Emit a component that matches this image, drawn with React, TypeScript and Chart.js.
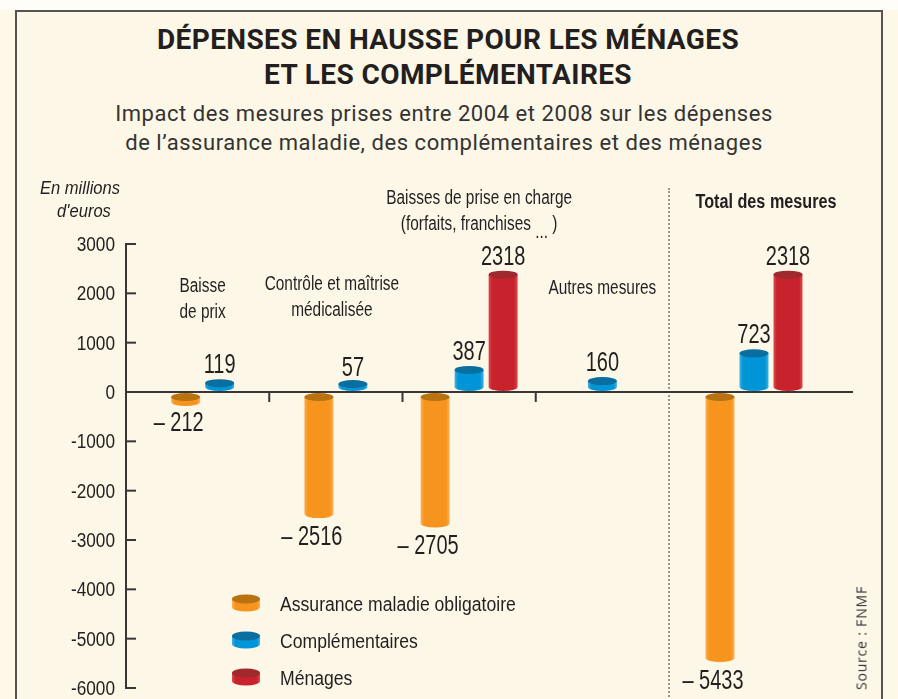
import React, { useEffect, useRef } from "react";
import { Chart, registerables } from "chart.js";

Chart.register(...registerables);

// ---------- data ----------
const groupLabels: string[][] = [
  ["Baisse", "de prix"],
  ["Contrôle et maîtrise", "médicalisée"],
  ["Baisses de prise en charge", "(forfaits, franchises ...)"],
  ["Autres mesures"],
];
const totalLabel: string[] = ["Total des mesures"];
const seriesNames = ["Assurance maladie obligatoire", "Complémentaires", "Ménages"];

const assuranceMaladie: (number | null)[] = [-212, -2516, -2705, null];
const complementaires: (number | null)[] = [119, 57, 387, 160];
const menages: (number | null)[] = [null, null, 2318, null];

const totalAssurance: (number | null)[] = [-5433];
const totalComplementaires: (number | null)[] = [723];
const totalMenages: (number | null)[] = [2318];

const yTicks = [3000, 2000, 1000, 0, -1000, -2000, -3000, -4000, -5000, -6000];
const yMin = -6000;
const yMax = 3000;

// ---------- styles ----------
const COLORS = ["#f7941d", "#0095d6", "#c8232c"];
const TOPS = ["#b8720f", "#0a6ea0", "#a0292d"];
const EDGES = ["#fbb158", "#40b2e6", "#db4a51"];
const INK = "#231f20";
const SANS = "'Liberation Sans', Arial, 'DejaVu Sans', sans-serif";
const H = 699;
const LEFT_W = 669;
const RIGHT_W = 229;
const groupLabelY = [292, 290, 204, 294];
const groupLabelDx = [0, -4, 10, 0];

function txt(
  ctx: CanvasRenderingContext2D,
  s: string,
  x: number,
  y: number,
  font: string,
  sx: number,
  align: CanvasTextAlign = "center",
  baseline: CanvasTextBaseline = "alphabetic"
) {
  ctx.save();
  ctx.font = font;
  ctx.textAlign = align;
  ctx.textBaseline = baseline;
  ctx.fillStyle = INK;
  ctx.translate(x, y);
  ctx.scale(sx, 1);
  ctx.fillText(s, 0, 0);
  ctx.restore();
}

function drawCylinder(ctx: CanvasRenderingContext2D, x: number, w: number, yTop: number, yBot: number, ry: number, idx: number) {
  const rx = w / 2;
  const g = ctx.createLinearGradient(x - rx, 0, x + rx, 0);
  g.addColorStop(0, EDGES[idx]);
  g.addColorStop(0.12, COLORS[idx]);
  g.addColorStop(0.88, COLORS[idx]);
  g.addColorStop(1, EDGES[idx]);
  ctx.beginPath();
  ctx.moveTo(x - rx, yTop);
  ctx.lineTo(x - rx, yBot);
  ctx.ellipse(x, yBot, rx, ry, 0, Math.PI, 0, true);
  ctx.lineTo(x + rx, yTop);
  ctx.closePath();
  ctx.fillStyle = g;
  ctx.fill();
  ctx.beginPath();
  ctx.ellipse(x, yTop, rx, ry, 0, 0, Math.PI * 2);
  ctx.fillStyle = TOPS[idx];
  ctx.fill();
}

function fmt(v: number) {
  return v < 0 ? "\u2013 " + Math.abs(v) : String(v);
}

const cylinderPlugin = {
  id: "cylinders",
  afterDatasetsDraw(chart: any) {
    const ctx: CanvasRenderingContext2D = chart.ctx;
    const ys = chart.scales.y;
    const base = ys.getPixelForValue(0);
    const ry = 4;
    chart.data.datasets.forEach((ds: any, di: number) => {
      const meta = chart.getDatasetMeta(di);
      meta.data.forEach((bar: any, i: number) => {
        const v = ds.data[i];
        if (v == null) return;
        const { x, width } = bar.getProps(["x", "width"], true);
        const vy = ys.getPixelForValue(v);
        let top: number, bot: number;
        if (v >= 0) {
          bot = base - ry - 1;
          top = Math.min(vy - 3, bot - 3);
        } else {
          top = base + ry + 1;
          bot = Math.max(vy - ry + 2, top + 5);
        }
        ctx.save();
        drawCylinder(ctx, x, width, top, bot, ry, di);
        ctx.restore();
        const font = `27px ${SANS}`;
        if (v >= 0) txt(ctx, fmt(v), x, vy - 13, font, 0.74);
        else txt(ctx, fmt(v), x - 7, vy + 29, font, 0.74);
      });
    });
  },
};

function drawGroupLabel(ctx: CanvasRenderingContext2D, line: string, x: number, y: number, font: string, sx: number) {
  const parts = line.split("...");
  if (parts.length === 2) {
    ctx.save();
    ctx.font = font;
    const a = parts[0];
    const dots = "...";
    const b = " " + parts[1];
    const wa = ctx.measureText(a).width * sx;
    const wd = ctx.measureText(dots).width * sx;
    const wb = ctx.measureText(b).width * sx;
    ctx.restore();
    const start = x - (wa + wd + wb) / 2;
    txt(ctx, a, start, y, font, sx, "left");
    txt(ctx, dots, start + wa, y + 8, font, sx, "left");
    txt(ctx, b, start + wa + wd, y, font, sx, "left");
  } else {
    txt(ctx, line, x, y, font, sx);
  }
}

const leftDecor = {
  id: "leftDecor",
  beforeDatasetsDraw(chart: any) {
    const ctx: CanvasRenderingContext2D = chart.ctx;
    const ys = chart.scales.y;
    const xs = chart.scales.x;
    const area = chart.chartArea;
    const axisX = area.left - 10;
    const base = ys.getPixelForValue(0);
    ctx.save();
    ctx.strokeStyle = "#3a3536";
    ctx.lineWidth = 2;
    // y axis
    ctx.beginPath();
    ctx.moveTo(axisX, ys.getPixelForValue(yMax));
    ctx.lineTo(axisX, ys.getPixelForValue(yMin));
    ctx.stroke();
    yTicks.forEach((t) => {
      const py = ys.getPixelForValue(t);
      ctx.beginPath();
      ctx.moveTo(axisX - 1, py);
      ctx.lineTo(axisX + 10, py);
      ctx.stroke();
      txt(ctx, String(t), axisX - 11, py + 7, `20px ${SANS}`, 0.86, "right");
    });
    // zero line
    ctx.beginPath();
    ctx.moveTo(axisX, base);
    ctx.lineTo(chart.width, base);
    ctx.stroke();
    // separators
    for (let i = 0; i < groupLabels.length - 1; i++) {
      const sx = (xs.getPixelForValue(i) + xs.getPixelForValue(i + 1)) / 2;
      ctx.beginPath();
      ctx.moveTo(sx, base);
      ctx.lineTo(sx, base + 10);
      ctx.stroke();
    }
    ctx.restore();
    // y title
    txt(ctx, "En millions", 80, 194, `italic 18px ${SANS}`, 0.92);
    txt(ctx, "d'euros", 84, 217, `italic 18px ${SANS}`, 0.92);
    // group labels
    const gFont = `20px ${SANS}`;
    groupLabels.forEach((lines, i) => {
      const cx = xs.getPixelForValue(i) + groupLabelDx[i];
      lines.forEach((ln, k) => drawGroupLabel(ctx, ln, cx, groupLabelY[i] + k * 26, gFont, 0.77));
    });
    // legend
    const legendY = [603, 640, 677];
    seriesNames.forEach((name, i) => {
      ctx.save();
      drawCylinder(ctx, 246, 28, legendY[i] - 4, legendY[i] + 4, 4.5, i);
      ctx.restore();
      txt(ctx, name, 280, legendY[i] + 8, `20px ${SANS}`, 0.88, "left");
    });
  },
};

const rightDecor = {
  id: "rightDecor",
  beforeDatasetsDraw(chart: any) {
    const ctx: CanvasRenderingContext2D = chart.ctx;
    const ys = chart.scales.y;
    const xs = chart.scales.x;
    const base = ys.getPixelForValue(0);
    ctx.save();
    ctx.strokeStyle = "#3a3536";
    ctx.lineWidth = 2;
    ctx.beginPath();
    ctx.moveTo(0, base);
    ctx.lineTo(chart.chartArea.right + 14, base);
    ctx.stroke();
    ctx.restore();
    totalLabel.forEach((ln, k) =>
      txt(ctx, ln, xs.getPixelForValue(0) + 12, 208 + k * 26, `bold 20px ${SANS}`, 0.81)
    );
  },
};

function makeConfig(labels: string[], data: (number | null)[][], padding: any, plugins: any[]): any {
  return {
    type: "bar",
    data: {
      labels,
      datasets: data.map((d, i) => ({
        label: seriesNames[i],
        data: d,
        backgroundColor: "rgba(0,0,0,0)",
        borderWidth: 0,
      })),
    },
    options: {
      responsive: false,
      maintainAspectRatio: false,
      animation: false,
      layout: { padding },
      datasets: { bar: { barThickness: 34, maxBarThickness: 29, skipNull: true } },
      scales: {
        x: { display: false },
        y: { display: false, min: yMin, max: yMax },
      },
      plugins: { legend: { display: false }, tooltip: { enabled: false } },
    },
    plugins,
  };
}

export default function App() {
  const leftRef = useRef<HTMLCanvasElement>(null);
  const rightRef = useRef<HTMLCanvasElement>(null);
  useEffect(() => {
    const left = new Chart(
      leftRef.current as HTMLCanvasElement,
      makeConfig(
        groupLabels.map((l) => l.join(" ")),
        [assuranceMaladie, complementaires, menages],
        { left: 136, right: 0, top: 244, bottom: 11 },
        [leftDecor, cylinderPlugin]
      )
    );
    const right = new Chart(
      rightRef.current as HTMLCanvasElement,
      makeConfig(
        [totalLabel.join(" ")],
        [totalAssurance, totalComplementaires, totalMenages],
        { left: 0, right: RIGHT_W - 170, top: 244, bottom: 11 },
        [rightDecor, cylinderPlugin]
      )
    );
    return () => {
      left.destroy();
      right.destroy();
    };
  }, []);

  return (
    <div style={{ position: "fixed", left: 0, top: 0, width: 898, height: H, overflow: "hidden", background: "#fdf8e8" }}>
      <div style={{ position: "absolute", left: 0, top: 0, width: 898, height: 10, background: "#fffdf7" }} />
      <div
        style={{
          position: "absolute",
          left: 15,
          top: 10,
          width: 864,
          height: 720,
          border: "2px solid #555252",
          background: "#fdf7e7",
        }}
      />
      <div
        style={{
          position: "absolute",
          left: 16,
          top: 22,
          width: 864,
          textAlign: "center",
          fontFamily: "Roboto, 'DejaVu Sans', sans-serif",
          fontWeight: 700,
          fontSize: 28,
          lineHeight: "35px",
          color: INK,
          letterSpacing: 0.4,
        }}
      >
        DÉPENSES EN HAUSSE POUR LES MÉNAGES
        <br />
        ET LES COMPLÉMENTAIRES
      </div>
      <div
        style={{
          position: "absolute",
          left: 12,
          top: 99,
          width: 864,
          textAlign: "center",
          fontFamily: "Roboto, 'DejaVu Sans', sans-serif",
          fontWeight: 400,
          fontSize: 22,
          lineHeight: "29px",
          color: "#333",
          letterSpacing: 0.55,
        }}
      >
        Impact des mesures prises entre 2004 et 2008 sur les dépenses
        <br />
        de l’assurance maladie, des complémentaires et des ménages
      </div>
      <div
        style={{
          position: "absolute",
          left: 668,
          top: 188,
          height: 520,
          borderLeft: "2px dotted #9a9594",
        }}
      />
      <canvas ref={leftRef} width={LEFT_W} height={H} style={{ position: "absolute", left: 0, top: 0, width: LEFT_W, height: H }} />
      <canvas ref={rightRef} width={RIGHT_W} height={H} style={{ position: "absolute", left: LEFT_W, top: 0, width: RIGHT_W, height: H }} />
      <div
        style={{
          position: "absolute",
          left: 861,
          top: 638,
          transform: "translate(-50%, -50%) rotate(-90deg)",
          whiteSpace: "nowrap",
          fontFamily: "'Open Sans', 'DejaVu Sans', sans-serif",
          fontSize: 14,
          letterSpacing: 0.8,
          color: "#333",
        }}
      >
        Source : FNMF
      </div>
    </div>
  );
}
